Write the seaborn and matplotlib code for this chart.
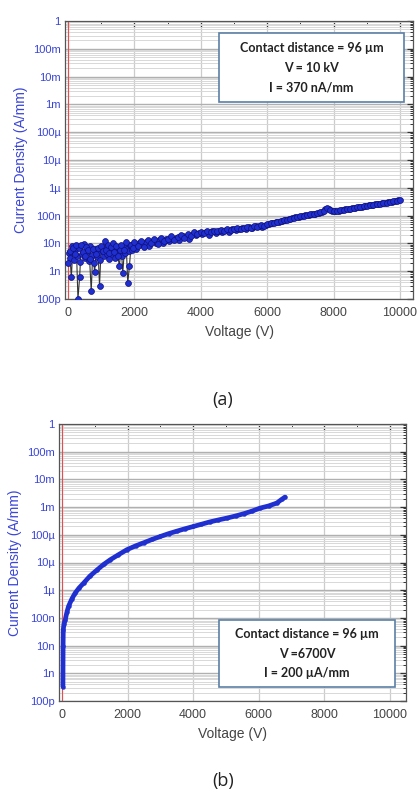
import numpy as np
import pandas as pd
import seaborn as sns
import matplotlib.pyplot as plt
from matplotlib.patches import Rectangle
from matplotlib.ticker import LogLocator, NullFormatter

# ---- data ----
# panel (a): 10 kV sweep, current density in nA/mm
volt_a_low = np.arange(0, 2000, 50)
dens_a_low_nA = [2.0, 5.5, 0.6, 7.0, 4.0, 9.0, 0.1, 0.6, 8.5, 5.0,
                 3.5, 7.5, 6.0, 2.8, 0.19, 6.5, 0.9, 4.0, 7.0, 0.3,
                 8.0, 5.5, 12, 6.0, 9.0, 4.5, 7.5, 10, 5.0, 8.0,
                 3.5, 1.5, 9.0, 0.85, 6.0, 11, 0.38, 1.5, 9.0, 7.0]
volt_a_mid = np.arange(25, 2000, 50)
dens_a_mid_nA = [4.5, 3.0, 8.0, 2.5, 6.0, 3.5, 7.0, 2.2, 4.0, 9.5,
                 3.0, 5.0, 2.4, 8.0, 3.8, 2.0, 6.5, 3.2, 4.8, 2.6,
                 6.0, 3.6, 7.0, 4.2, 2.8, 6.5, 4.0, 5.5, 3.0, 7.5,
                 5.0, 6.0, 3.4, 8.0, 4.5, 6.5, 5.5, 8.5, 6.0, 9.0]
volt_a_high = np.arange(2000, 10001, 100)
dens_a_high_nA = [11, 8.0, 12, 7.5, 13, 10, 14, 9.5, 16, 12,
                  15, 18, 13, 17, 20, 16, 22, 19, 25, 21,
                  26, 23, 28, 25, 29, 27, 30, 28, 32, 30,
                  33, 35, 32, 37, 39, 36, 42, 40, 45, 44,
                  48, 52, 56, 60, 65, 68, 72, 78, 83, 88,
                  93, 98, 104, 110, 115, 122, 132, 150, 185, 160,
                  142, 148, 155, 162, 170, 178, 188, 196, 205, 215,
                  226, 236, 248, 258, 270, 282, 295, 310, 325, 345,
                  370]
volt_a_high2 = np.arange(2050, 10000, 100)
dens_a_high2_nA = [6.5, 10, 8.5, 11, 8.0, 12, 10.5, 13, 10, 14,
                   12, 15, 16, 13, 18, 17, 14, 21, 20, 24,
                   21, 25, 20, 27, 23, 28, 25, 31, 26, 34,
                   30, 33, 36, 33, 40, 37, 41, 43, 40, 47,
                   50, 53, 58, 61, 64, 70, 75, 80, 86, 90,
                   96, 101, 107, 112, 118, 127, 140, 170, 172, 150,
                   145, 152, 158, 166, 174, 183, 192, 200, 210, 220,
                   231, 242, 253, 264, 276, 289, 303, 318, 335, 358]

# panel (b): 6700 V sweep, current density in A/mm
volt_b = [30, 35, 40, 60, 100, 150, 200, 300, 400, 520, 660, 850, 1070, 1270,
          1470, 1720, 1980, 2250, 2500, 2750, 3000, 3250, 3500, 3750, 4010,
          4250, 4500, 4750, 5025, 5300, 5550, 5800, 6040, 6300, 6550, 6700, 6800]
dens_b = [3.3e-10, 1.0e-8, 3.7e-8, 6.0e-8, 8.5e-8, 1.6e-7, 2.6e-7, 4.8e-7, 7.8e-7,
          1.2e-6, 1.8e-6, 3.2e-6, 5.4e-6, 8.5e-6, 1.25e-5, 1.9e-5, 2.9e-5, 4.0e-5,
          5.2e-5, 6.8e-5, 8.7e-5, 1.1e-4, 1.35e-4, 1.65e-4, 2.0e-4, 2.4e-4, 2.9e-4,
          3.4e-4, 4.0e-4, 4.8e-4, 5.8e-4, 7.2e-4, 9.2e-4, 1.1e-3, 1.4e-3, 1.9e-3, 2.3e-3]

ytick_vals = [1e-10, 1e-9, 1e-8, 1e-7, 1e-6, 1e-5, 1e-4, 1e-3, 1e-2, 1e-1, 1]
ytick_labels = ['100p', '1n', '10n', '100n', '1\u00b5', '10\u00b5', '100\u00b5',
                '1m', '10m', '100m', '1']
xtick_vals = [0, 2000, 4000, 6000, 8000, 10000]

box_a = ['Contact distance = 96 \u00b5m', 'V = 10 kV', 'I = 370 nA/mm']
box_b = ['Contact distance = 96 \u00b5m', 'V =6700V', 'I = 200 \u00b5A/mm']

df_a = pd.DataFrame({
    'Voltage': np.concatenate([volt_a_low, volt_a_high]),
    'Density': np.array(dens_a_low_nA + dens_a_high_nA) * 1e-9,
})
df_a_extra = pd.DataFrame({
    'Voltage': np.concatenate([volt_a_mid, volt_a_high2]),
    'Density': np.array(dens_a_mid_nA + dens_a_high2_nA) * 1e-9,
})
df_b = pd.DataFrame({'Voltage': volt_b, 'Density': dens_b})

sns.set_theme(style='white')
plt.rcParams['font.family'] = ['Liberation Sans', 'DejaVu Sans']

BLUE = '#1f2fd0'
LABEL_BLUE = '#3a45d8'

fig = plt.figure(figsize=(4.19, 7.92), dpi=100)
ax_a = fig.add_axes([65 / 419, 1 - 299 / 792, 348 / 419, 278 / 792])
ax_b = fig.add_axes([59 / 419, 1 - 701 / 792, 347 / 419, 277 / 792])


def style_axes(ax, xlim):
    ax.set_yscale('log')
    ax.set_ylim(1e-10, 1)
    ax.set_xlim(*xlim)
    ax.set_yticks(ytick_vals)
    ax.set_yticklabels(ytick_labels, color=LABEL_BLUE, fontsize=8)
    ax.yaxis.set_minor_locator(LogLocator(base=10, subs=np.arange(2, 10), numticks=30))
    ax.yaxis.set_minor_formatter(NullFormatter())
    ax.set_xticks(xtick_vals)
    ax.set_xticklabels([str(v) for v in xtick_vals], color='#444444', fontsize=9)
    ax.set_xticks(range(1000, 10001, 2000), minor=True)
    ax.grid(True, which='major', axis='x', color='#cccccc', lw=0.9)
    ax.grid(True, which='major', axis='y', color='#b0b0b0', lw=1.0)
    ax.grid(True, which='minor', axis='y', color='#d8d8d8', lw=0.7)
    ax.tick_params(which='both', direction='in', top=True, right=True,
                   color='#333333', length=2, width=0.7, pad=3)
    ax.tick_params(which='major', length=4, width=0.9)
    ax.tick_params(axis='x', which='major', pad=6)
    for s in ax.spines.values():
        s.set_color('#555555')
        s.set_linewidth(0.9)
    ax.axvline(0, color='#e05050', lw=0.8, zorder=2)
    ax.set_ylabel('Current Density (A/mm)', color=LABEL_BLUE, fontsize=10, labelpad=4)
    ax.set_xlabel('Voltage (V)', color='#444444', fontsize=10, labelpad=4)
    ax.set_axisbelow(True)


def add_box(x0, y0, w, h, lines):
    rect = Rectangle((x0, y0), w, h, transform=fig.transFigure, facecolor='white',
                     edgecolor='#5b7fa6', lw=1.2, zorder=5)
    fig.patches.append(rect)
    cx = x0 + w / 2
    n = len(lines)
    for i, t in enumerate(lines):
        cy = y0 + h * (1 - (i + 0.75) / (n + 0.5))
        fig.text(cx, cy, t, ha='center', va='center', fontsize=9, fontweight='bold',
                 family=['Lato', 'DejaVu Sans'], color='#222222', zorder=6)


# panel (a)
sns.lineplot(data=df_a, x='Voltage', y='Density', ax=ax_a, color='#333333', lw=0.8,
             sort=False, zorder=3)
sns.scatterplot(data=df_a_extra, x='Voltage', y='Density', ax=ax_a, color=BLUE,
                edgecolor='#10107a', linewidth=0.5, s=18, zorder=4)
sns.scatterplot(data=df_a, x='Voltage', y='Density', ax=ax_a, color=BLUE,
                edgecolor='#10107a', linewidth=0.5, s=18, zorder=4)
style_axes(ax_a, (-90, 10390))

# panel (b)
sns.lineplot(data=df_b, x='Voltage', y='Density', ax=ax_b, color=BLUE, lw=3.4,
             sort=False, zorder=3)
sns.scatterplot(data=df_b, x='Voltage', y='Density', ax=ax_b, color=BLUE,
                edgecolor=BLUE, linewidth=0.3, s=8, zorder=4)
style_axes(ax_b, (-90, 10490))

add_box(219 / 419, 1 - 102 / 792, 185 / 419, 69 / 792, box_a)
add_box(219 / 419, 1 - 687 / 792, 176 / 419, 67 / 792, box_b)

fig.text(223 / 419, 1 - 400 / 792, '(a)', ha='center', va='center', fontsize=13,
         family=['Open Sans', 'DejaVu Sans'], color='#222222')
fig.text(223 / 419, 1 - 781 / 792, '(b)', ha='center', va='center', fontsize=13,
         family=['Open Sans', 'DejaVu Sans'], color='#222222')

fig.savefig('out.png', dpi=100)
